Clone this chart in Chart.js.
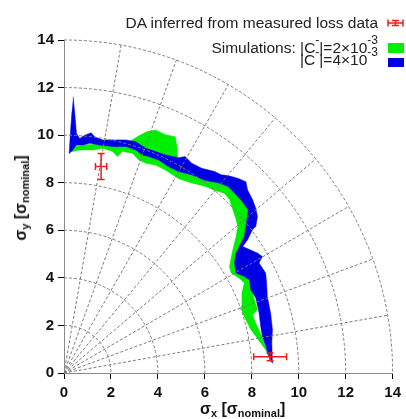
<!DOCTYPE html>
<html>
<head>
<meta charset="utf-8">
<script src="https://cdn.jsdelivr.net/npm/chart.js@4.4.1/dist/chart.umd.min.js"></script>
<style>
    html, body { margin: 0; padding: 0; background: #fff; }
    #wrap { position: relative; width: 406px; height: 419px; overflow: hidden; font-family: "Liberation Sans", Arial, sans-serif; }
    #chart { position: absolute; left: 0; top: 0; }
    .leg { position: absolute; right: 28px; font-size: 15.5px; line-height: 15px; color: #222; white-space: nowrap; }
    .leg sup { font-size: 12px; position: relative; top: -9px; vertical-align: baseline; line-height: 0; }
    .title { position: absolute; font-size: 16px; font-weight: bold; line-height: 16px; color: #111; white-space: nowrap; }
    .title sub { font-size: 11px; position: relative; top: 3px; vertical-align: baseline; line-height: 0; }
</style>
</head>
<body>
<div id="wrap">
    <canvas id="chart" width="406" height="419"></canvas>
    <div class="leg" style="top:15px">DA inferred from measured loss data</div>
    <div class="leg" style="top:40px">Simulations: |C<sup>-</sup>|=2×10<sup>-3</sup></div>
    <div class="leg" style="top:52px">|C<sup>-</sup>|=4×10<sup>-3</sup></div>
    <div class="title" style="left:200px; top:401px">σ<sub>x</sub> [σ<sub>nominal</sub>]</div>
    <div class="title" style="left:21px; top:198px; transform: translate(-50%, -50%) rotate(-90deg)">σ<sub>y</sub> [σ<sub>nominal</sub>]</div>
</div>
<script>
(function () {
    const tickValues = [0, 2, 4, 6, 8, 10, 12, 14];
    const gridRadii = [2, 4, 6, 8, 10, 12, 14];
    const gridAngles = [10, 20, 30, 40, 50, 60, 70, 80];

    // DA inferred from measured loss data
    const measuredX = [1.58, 8.78];
    const measuredY = [8.68, 0.68];
    const measuredXErr = [0.24, 0.7];
    const measuredYErr = [0.55, 0.16];

    // |C-| = 2e-3 band
    const greenOuter = [[0.33, 9.5], [0.8, 9.6], [1.5, 9.62], [2.2, 9.62], [2.77, 9.72], [3.12, 9.93], [3.54, 10.15], [3.9, 10.22],
        [4.32, 10.02], [4.74, 9.93], [4.81, 9.52], [4.85, 9.0], [5.44, 8.6], [6.0, 8.4], [6.7, 8.25], [7.3, 8.05], [7.6, 7.7],
        [7.9, 7.1], [7.95, 6.6], [7.85, 6.1], [7.75, 5.75], [7.55, 5.3], [7.6, 4.8], [7.75, 4.3], [7.89, 3.78], [8.03, 3.36],
        [8.24, 2.66], [8.03, 2.44], [8.17, 2.09], [8.4, 1.6], [8.6, 1.0], [8.85, 0.45]];
    const greenInner = [[8.8, 0.5], [8.59, 0.97], [8.38, 1.26], [8.17, 1.54], [7.96, 1.82], [7.75, 2.23], [7.61, 2.52], [7.54, 2.8],
        [7.58, 3.36], [7.68, 3.78], [7.47, 3.98], [7.12, 4.2], [7.05, 4.48], [7.12, 4.85], [7.19, 5.18], [7.33, 5.74], [7.4, 6.16],
        [7.33, 6.45], [7.19, 6.87], [7.05, 7.29], [6.84, 7.55], [6.42, 7.68], [6.0, 7.85], [5.44, 7.99], [4.88, 8.17], [4.74, 8.26],
        [4.32, 8.53], [3.9, 8.74], [3.48, 8.82], [3.19, 8.95], [2.91, 9.24], [2.49, 9.31], [2.28, 9.1], [2.07, 9.31], [1.65, 9.45],
        [1.23, 9.38], [0.67, 9.38], [0.33, 9.3]];

    // |C-| = 4e-3 band
    const blueOuter = [[0.39, 11.62], [0.47, 10.8], [0.53, 10.07], [0.67, 9.86], [0.88, 10.0], [1.16, 10.1], [1.3, 9.93], [1.65, 9.8],
        [2.07, 9.8], [2.64, 9.8], [3.06, 9.72], [3.48, 9.45], [3.9, 9.31], [4.32, 9.17], [4.88, 9.05], [5.16, 9.1], [5.44, 8.82],
        [5.86, 8.61], [6.42, 8.47], [6.7, 8.33], [6.98, 8.3], [7.4, 8.19], [7.75, 8.04], [7.82, 7.69], [8.03, 7.29], [8.17, 6.92],
        [8.24, 6.58], [8.17, 6.16], [8.03, 6.03], [7.82, 5.6], [7.61, 5.32], [8.24, 5.04], [8.45, 4.9], [8.31, 4.62], [8.59, 4.2],
        [8.63, 3.78], [8.66, 3.22], [8.8, 2.52], [8.88, 1.82], [8.85, 1.26], [8.88, 0.41]];
    const blueInner = [[8.73, 0.7], [8.59, 1.12], [8.45, 1.54], [8.38, 1.96], [8.31, 2.52], [8.17, 3.15], [7.96, 3.5], [7.89, 3.92],
        [7.68, 4.06], [7.33, 4.2], [7.26, 4.62], [7.33, 5.04], [7.47, 5.32], [7.68, 5.74], [7.75, 6.16], [7.8, 6.5], [7.85, 6.85],
        [7.6, 7.2], [7.26, 7.57], [6.98, 7.85], [6.56, 8.0], [6.0, 8.1], [5.44, 8.33], [4.88, 8.47], [4.46, 8.67], [4.04, 8.95],
        [3.61, 9.1], [3.33, 9.17], [3.06, 9.38], [2.64, 9.52], [2.07, 9.52], [1.51, 9.59], [1.09, 9.66], [0.81, 9.59], [0.53, 9.59],
        [0.32, 9.31], [0.22, 9.23], [0.28, 10.2], [0.34, 11.0]];

    const green = '#00ee00';
    const blue = '#0000e6';
    const red = '#ee1c1c';
    const fontFamily = '"Liberation Sans", Arial, sans-serif';

    function Band(outer, inner) {
        return outer.concat(inner).map(function (p) { return { x: p[0], y: p[1] }; });
    }

    const polarGrid = {
        id: 'polarGrid',
        afterDatasetsDraw(chart) {
            const { ctx, chartArea, scales: { x, y } } = chart;
            const x0 = x.getPixelForValue(0), y0 = y.getPixelForValue(0);
            const rMax = gridRadii[gridRadii.length - 1];
            ctx.save();
            ctx.beginPath();
            ctx.rect(chartArea.left, chartArea.top - 1, chartArea.width + 1, chartArea.height + 1);
            ctx.clip();
            ctx.strokeStyle = '#7c7c7c';
            ctx.lineWidth = 1;
            ctx.setLineDash([3, 2]);
            gridRadii.forEach(function (r) {
                const rx = x.getPixelForValue(r) - x0;
                const ry = y0 - y.getPixelForValue(r);
                ctx.beginPath();
                ctx.ellipse(x0, y0, rx, ry, 0, -Math.PI / 2, 0);
                ctx.stroke();
            });
            gridAngles.forEach(function (a) {
                const t = a * Math.PI / 180;
                ctx.beginPath();
                ctx.moveTo(x0, y0);
                ctx.lineTo(x.getPixelForValue(rMax * Math.cos(t)), y.getPixelForValue(rMax * Math.sin(t)));
                ctx.stroke();
            });
            ctx.restore();
        }
    };

    function ErrorBar(ctx, cx, cy, left, right, top, bottom) {
        const cap = 3.5;
        ctx.beginPath();
        ctx.moveTo(left, cy); ctx.lineTo(right, cy);
        ctx.moveTo(left, cy - cap); ctx.lineTo(left, cy + cap);
        ctx.moveTo(right, cy - cap); ctx.lineTo(right, cy + cap);
        ctx.moveTo(cx, top); ctx.lineTo(cx, bottom);
        ctx.moveTo(cx - cap, top); ctx.lineTo(cx + cap, top);
        ctx.moveTo(cx - cap, bottom); ctx.lineTo(cx + cap, bottom);
        ctx.stroke();
    }

    const errorBars = {
        id: 'errorBars',
        afterDatasetsDraw(chart) {
            const { ctx, scales: { x, y } } = chart;
            ctx.save();
            ctx.strokeStyle = red;
            ctx.lineWidth = 1.5;
            for (let i = 0; i < measuredX.length; i++) {
                ErrorBar(ctx,
                    x.getPixelForValue(measuredX[i]), y.getPixelForValue(measuredY[i]),
                    x.getPixelForValue(measuredX[i] - measuredXErr[i]), x.getPixelForValue(measuredX[i] + measuredXErr[i]),
                    y.getPixelForValue(measuredY[i] + measuredYErr[i]), y.getPixelForValue(measuredY[i] - measuredYErr[i]));
            }
            ctx.restore();
        }
    };

    const legendMarks = {
        id: 'legendMarks',
        afterDraw(chart) {
            const ctx = chart.ctx;
            ctx.save();
            ctx.strokeStyle = red;
            ctx.lineWidth = 1.5;
            ErrorBar(ctx, 395.5, 23, 388, 403, 20.5, 25.5);
            ctx.fillStyle = green;
            ctx.fillRect(388, 43, 16, 10);
            ctx.fillStyle = blue;
            ctx.fillRect(388, 58, 16, 9);
            ctx.restore();
        }
    };

    function AxisOptions(isX) {
        return {
            type: 'linear',
            min: 0,
            max: 14,
            afterBuildTicks: function (scale) { scale.ticks = tickValues.map(function (v) { return { value: v }; }); },
            afterFit: function (scale) { if (isX) scale.height = 46; else scale.width = 64; },
            grid: { drawOnChartArea: false, color: '#000', tickLength: 6, lineWidth: 1 },
            border: { display: true, color: '#8a8a8a', dash: [2, 2], width: 1 },
            ticks: {
                color: '#111',
                padding: isX ? 5 : 4,
                maxRotation: 0,
                font: { family: fontFamily, size: 15, weight: 'bold' }
            }
        };
    }

    function DAChart() {
        const ctx = document.getElementById('chart').getContext('2d');
        return new Chart(ctx, {
            type: 'scatter',
            data: {
                datasets: [
                    {
                        data: Band(blueOuter, blueInner),
                        showLine: true, fill: 'shape', order: 1,
                        backgroundColor: blue, borderColor: blue, borderWidth: 0.5, pointRadius: 0
                    },
                    {
                        data: Band(greenOuter, greenInner),
                        showLine: true, fill: 'shape', order: 2,
                        backgroundColor: green, borderColor: green, borderWidth: 0.5, pointRadius: 0
                    }
                ]
            },
            options: {
                responsive: false,
                animation: false,
                layout: { padding: { top: 40, right: 9, left: 0, bottom: 0 } },
                plugins: { legend: { display: false }, tooltip: { enabled: false } },
                scales: { x: AxisOptions(true), y: AxisOptions(false) }
            },
            plugins: [polarGrid, errorBars, legendMarks]
        });
    }

    window.onload = function () {
        DAChart();
    };
})();
</script>
</body>
</html>
